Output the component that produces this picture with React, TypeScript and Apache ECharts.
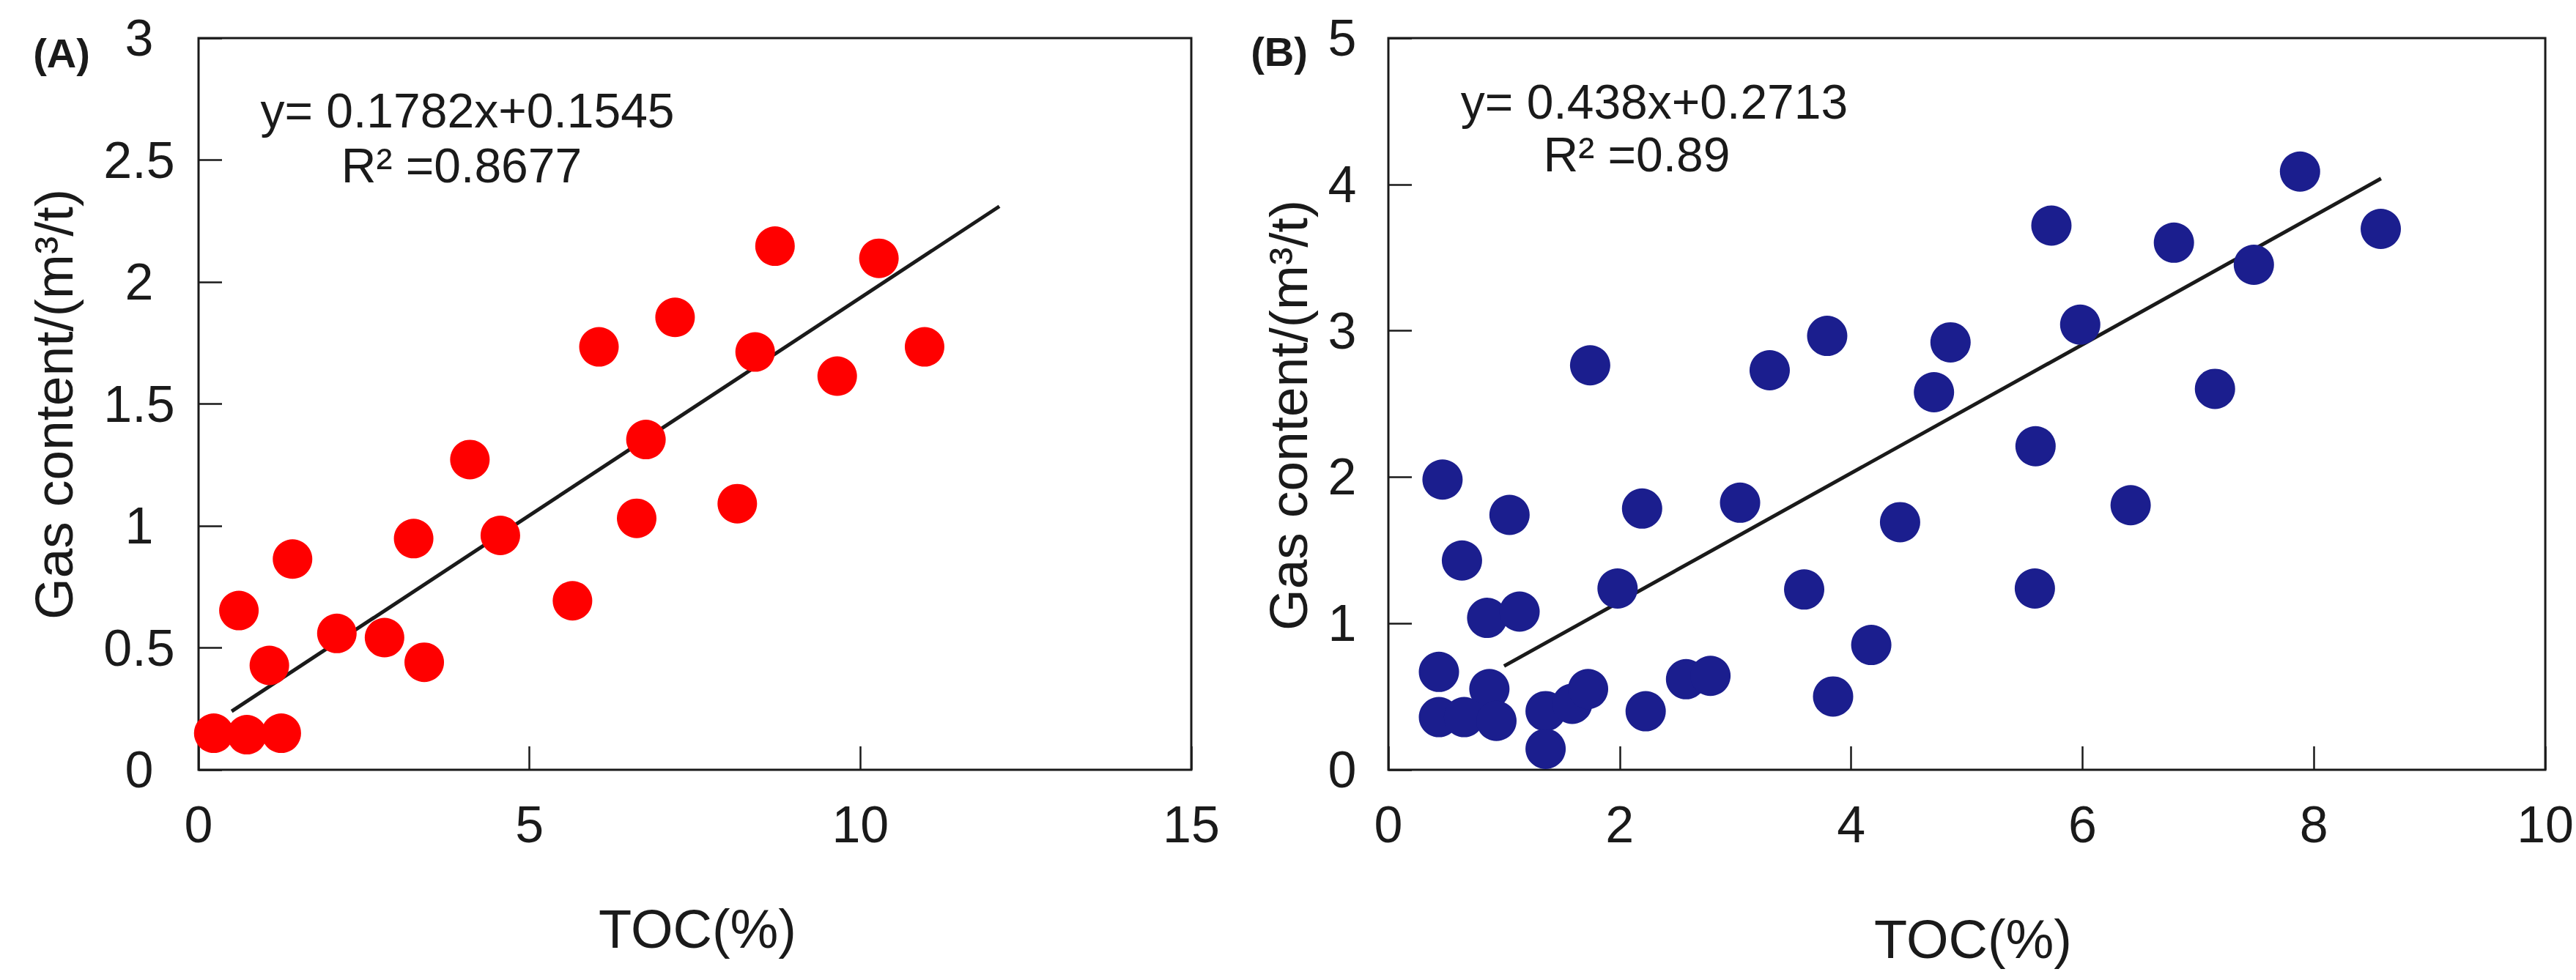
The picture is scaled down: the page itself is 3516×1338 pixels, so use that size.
import React, { useEffect, useRef } from "react";
import * as echarts from "echarts";

// Panel A: TOC (%) vs gas content (m3/t)
const tocA = [0.23, 0.73, 1.25, 0.61, 1.07, 1.42, 2.09, 2.81, 3.41, 3.25, 4.10, 4.56, 5.65, 6.05, 6.62, 6.76, 7.20, 8.14, 8.41, 8.71, 9.65, 10.28, 10.97];
const gasA = [0.15, 0.144, 0.15, 0.653, 0.428, 0.864, 0.559, 0.542, 0.441, 0.948, 1.272, 0.961, 0.693, 1.734, 1.031, 1.354, 1.855, 1.091, 1.713, 2.147, 1.614, 2.097, 1.734];
const fitAX = [0.5, 12.1];
const fitAY = [0.24, 2.31];

// Panel B
const tocB = [0.468, 1.047, 0.636, 0.854, 1.134, 0.437, 0.873, 0.437, 0.655, 0.934, 1.359, 1.359, 1.589, 1.726, 1.744, 1.981, 2.193, 2.224, 2.573, 2.784, 3.040, 3.296, 3.594, 3.793, 3.844, 4.174, 4.423, 4.716, 4.859, 5.594, 5.588, 5.731, 5.980, 6.416, 6.790, 7.145, 7.481, 7.880, 8.578];
const gasB = [1.983, 1.742, 1.430, 1.038, 1.081, 0.669, 0.552, 0.360, 0.360, 0.334, 0.401, 0.143, 0.451, 0.552, 2.764, 1.239, 1.785, 0.400, 0.619, 0.642, 1.825, 2.730, 1.232, 2.965, 0.501, 0.853, 1.692, 2.580, 2.921, 2.211, 1.239, 3.719, 3.042, 1.808, 3.602, 2.603, 3.451, 4.088, 3.696];
const fitBX = [1.0, 8.58];
const fitBY = [0.709, 4.04];

const eqA = "y= 0.1782x+0.1545";
const r2A = "R\u00B2 =0.8677";
const eqB = "y= 0.438x+0.2713";
const r2B = "R\u00B2 =0.89";
const xTitle = "TOC(%)";
const yTitle = "Gas content/(m\u00B3/t)";

const FONT = "'Liberation Sans', Arial, sans-serif";
const INK = "#1a1a1a";

function pairs(xs: number[], ys: number[]) {
  return xs.map((x, i) => [x, ys[i]]);
}

export default function App() {
  const ref = useRef<HTMLDivElement>(null);
  useEffect(() => {
    if (!ref.current) return;
    const chart = echarts.init(ref.current, null, { renderer: "svg" });
    const axisLabel = (margin: number, align?: string) => ({
      fontSize: 70,
      fontFamily: FONT,
      color: INK,
      margin,
      ...(align ? { align } : {}),
    });
    const tick = { show: true, inside: true, length: 32, lineStyle: { color: INK, width: 2.5 } };
    const textG = (text: string, x: number, y: number, size: number, extra: any = {}) => ({
      type: "text",
      x,
      y,
      rotation: extra.rotation || 0,
      style: {
        text,
        fontSize: size,
        fontFamily: FONT,
        fontWeight: extra.bold ? "bold" : "normal",
        fill: INK,
        align: extra.align || "center",
        verticalAlign: "middle",
      },
    });
    chart.setOption({
      animation: false,
      backgroundColor: "#ffffff",
      grid: [
        { left: 271, top: 52, width: 1355, height: 999, show: true, borderColor: INK, borderWidth: 3, backgroundColor: "transparent" },
        { left: 1895, top: 52, width: 1587, height: 999, show: true, borderColor: INK, borderWidth: 3, backgroundColor: "transparent" },
      ],
      xAxis: [
        { gridIndex: 0, type: "value", min: 0, max: 15, interval: 5, axisLine: { show: false }, axisTick: tick, splitLine: { show: false }, axisLabel: axisLabel(40) },
        { gridIndex: 1, type: "value", min: 0, max: 10, interval: 2, axisLine: { show: false }, axisTick: tick, splitLine: { show: false }, axisLabel: axisLabel(40) },
      ],
      yAxis: [
        { gridIndex: 0, type: "value", min: 0, max: 3, interval: 0.5, axisLine: { show: false }, axisTick: tick, splitLine: { show: false }, axisLabel: axisLabel(81, "center") },
        { gridIndex: 1, type: "value", min: 0, max: 5, interval: 1, axisLine: { show: false }, axisTick: tick, splitLine: { show: false }, axisLabel: axisLabel(63, "center") },
      ],
      series: [
        {
          type: "line",
          xAxisIndex: 0,
          yAxisIndex: 0,
          data: pairs(fitAX, fitAY),
          symbol: "none",
          lineStyle: { color: INK, width: 5 },
          z: 3,
        },
        {
          type: "scatter",
          xAxisIndex: 0,
          yAxisIndex: 0,
          data: pairs(tocA, gasA),
          symbolSize: 54,
          itemStyle: { color: "#ff0000", opacity: 1 },
          z: 4,
        },
        {
          type: "line",
          xAxisIndex: 1,
          yAxisIndex: 1,
          data: pairs(fitBX, fitBY),
          symbol: "none",
          lineStyle: { color: INK, width: 5 },
          z: 3,
        },
        {
          type: "scatter",
          xAxisIndex: 1,
          yAxisIndex: 1,
          data: pairs(tocB, gasB),
          symbolSize: 55,
          itemStyle: { color: "#1b1e8e", opacity: 1 },
          z: 4,
        },
      ],
      graphic: [
        textG("(A)", 84, 72, 56, { bold: true }),
        textG("(B)", 1746, 70, 56, { bold: true }),
        textG(eqA, 638, 151, 66),
        textG(r2A, 630, 226, 66),
        textG(eqB, 2258, 139, 66),
        textG(r2B, 2234, 211, 66),
        textG(xTitle, 952, 1268, 74),
        textG(xTitle, 2693, 1282, 74),
        textG(yTitle, 73, 552, 73, { rotation: Math.PI / 2 }),
        textG(yTitle, 1758, 567, 73, { rotation: Math.PI / 2 }),
      ],
    });
    return () => chart.dispose();
  }, []);
  return <div ref={ref} style={{ position: "fixed", left: 0, top: 0, width: 3516, height: 1338 }} />;
}
